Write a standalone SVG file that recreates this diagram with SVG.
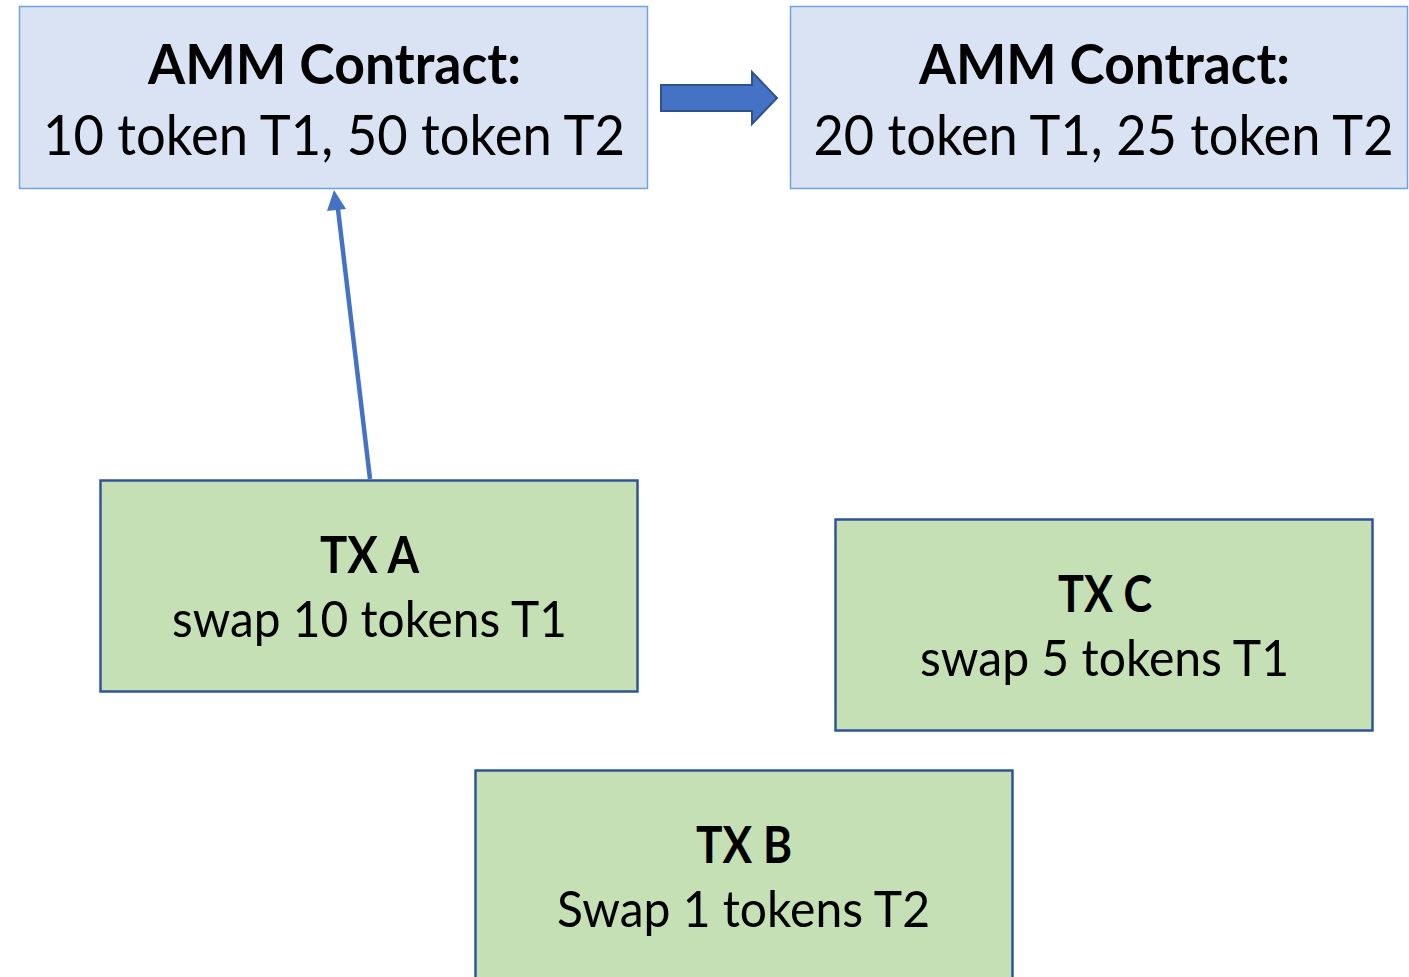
<svg xmlns="http://www.w3.org/2000/svg" width="1409" height="977" viewBox="0 0 1409 977">
<style>
.amm{fill:#DAE3F3;stroke:#6FA3DB;stroke-width:1.5}
.tx{fill:#C5E0B4;stroke:#2F5597;stroke-width:2.5}
text{font-family:Lato,"Open Sans","Liberation Sans",sans-serif;fill:#000;text-anchor:middle}
.big{font-size:56px}
.mid{font-size:51px}
.b{font-weight:bold}
</style>
<rect width="1409" height="977" fill="#fff"/>
<g id="amm1">
<rect class="amm" x="19.5" y="6.5" width="628" height="182"/>
<text class="big b" x="334.5" y="84" textLength="373" lengthAdjust="spacingAndGlyphs">AMM Contract:</text>
<text class="big" x="334" y="155" textLength="582" lengthAdjust="spacingAndGlyphs">10 token T1, 50 token T2</text>
</g>
<g id="amm2">
<rect class="amm" x="790.5" y="6.5" width="617" height="182"/>
<text class="big b" x="1104.5" y="84" textLength="371" lengthAdjust="spacingAndGlyphs">AMM Contract:</text>
<text class="big" x="1103.5" y="155" textLength="580" lengthAdjust="spacingAndGlyphs">20 token T1, 25 token T2</text>
</g>
<g id="txA">
<rect class="tx" x="100.5" y="480.5" width="537" height="211"/>
<text class="mid b" x="369.5" y="573" textLength="99" lengthAdjust="spacingAndGlyphs">TX A</text>
<text class="mid" x="369.5" y="637" textLength="395" lengthAdjust="spacingAndGlyphs">swap 10 tokens T1</text>
</g>
<g id="txC">
<rect class="tx" x="835.5" y="519.5" width="537" height="211"/>
<text class="mid b" x="1105" y="612" textLength="94" lengthAdjust="spacingAndGlyphs">TX C</text>
<text class="mid" x="1104.5" y="676" textLength="369" lengthAdjust="spacingAndGlyphs">swap 5 tokens T1</text>
</g>
<g id="txB">
<rect class="tx" x="475.5" y="770.5" width="537" height="220"/>
<text class="mid b" x="744" y="863" textLength="96" lengthAdjust="spacingAndGlyphs">TX B</text>
<text class="mid" x="743.5" y="927" textLength="373" lengthAdjust="spacingAndGlyphs">Swap 1 tokens T2</text>
</g>
<g id="connectors">
<polygon points="661,85 752,85 752,72 777,98 752,124 752,111 661,111" fill="#4472C4" stroke="#2F528F" stroke-width="2" stroke-linejoin="miter"/>
<line x1="370" y1="479" x2="337.5" y2="205" stroke="#4472C4" stroke-width="4.5"/>
<polygon points="334,190 327,211 346,209" fill="#4472C4"/>
</g>
</svg>
